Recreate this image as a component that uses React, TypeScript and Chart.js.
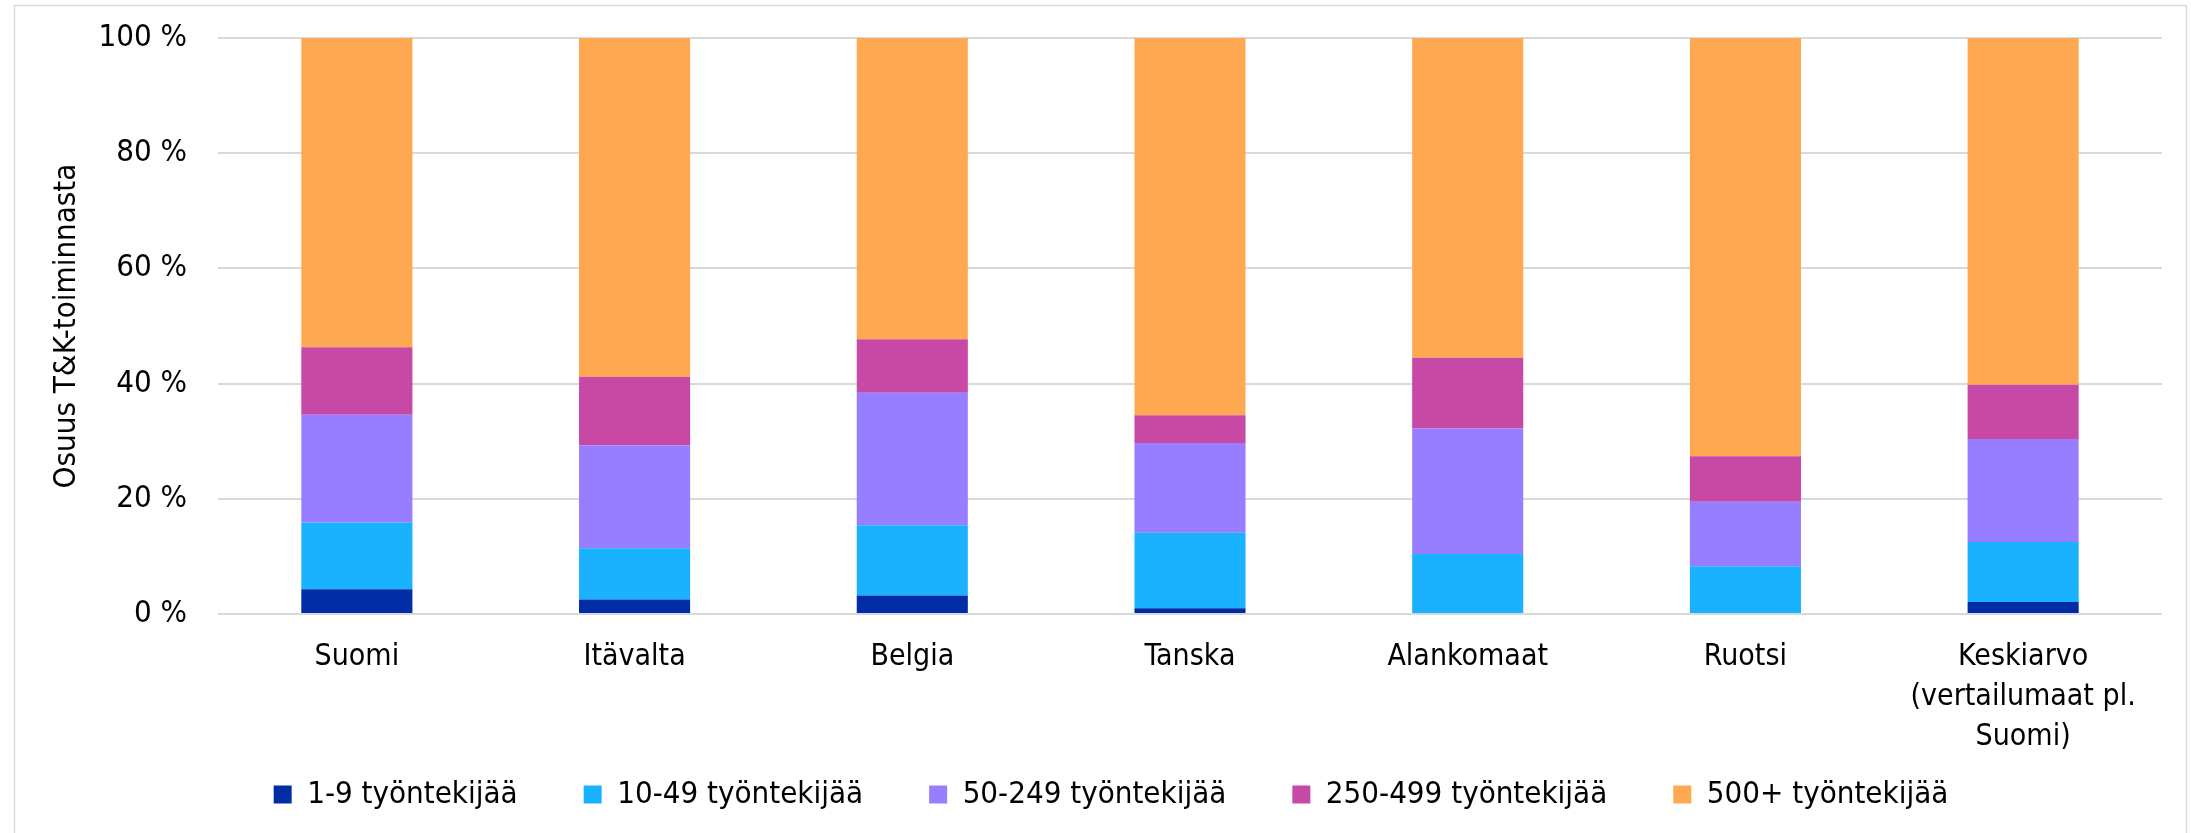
import React, { useEffect, useRef } from "react";
import { Chart, registerables } from "chart.js";

Chart.register(...registerables);

const categories: (string | string[])[] = [
  "Suomi",
  "Itävalta",
  "Belgia",
  "Tanska",
  "Alankomaat",
  "Ruotsi",
  ["Keskiarvo", "(vertailumaat pl.", "Suomi)"],
];

const seriesLabels = [
  "1-9 työntekijää",
  "10-49 työntekijää",
  "50-249 työntekijää",
  "250-499 työntekijää",
  "500+ työntekijää",
];

const s1to9 = [4.3, 2.5, 3.2, 1.0, 0, 0, 2.1];
const s10to49 = [11.6, 8.9, 12.2, 13.1, 10.4, 8.3, 10.4];
const s50to249 = [18.7, 17.9, 23.0, 15.6, 21.8, 11.2, 17.9];
const s250to499 = [11.7, 11.9, 9.3, 4.8, 12.3, 7.9, 9.4];
const s500plus = [53.7, 58.8, 52.3, 65.5, 55.5, 72.6, 60.2];

const seriesColors = ["#002DA5", "#1AB2FF", "#977DFF", "#C748A5", "#FFA852"];

const yTicks = [0, 20, 40, 60, 80, 100];
const yTitle = "Osuus T&K-toiminnasta";

const FONT = '"DejaVu Sans Condensed", "Liberation Sans", sans-serif';

export default function App() {
  const ref = useRef<HTMLCanvasElement | null>(null);

  useEffect(() => {
    if (!ref.current) return;
    const values = [s1to9, s10to49, s50to249, s250to499, s500plus];
    const borderPlugin = {
      id: "outerBorder",
      beforeDraw(chart: any) {
        const ctx = chart.ctx;
        ctx.save();
        ctx.fillStyle = "#ffffff";
        ctx.fillRect(0, 0, chart.width, chart.height);
        ctx.strokeStyle = "#d9d9d9";
        ctx.lineWidth = 1.5;
        ctx.strokeRect(14.5, 5.5, 2172, 850);
        ctx.restore();
      },
      afterLayout(chart: any) {
        const lg = chart.legend;
        if (lg) {
          lg.left += 30;
          lg.right += 30;
        }
      },
    };
    const chart = new Chart(ref.current, {
      type: "bar",
      data: {
        labels: categories as any,
        datasets: seriesLabels.map((label, i) => ({
          label,
          data: values[i],
          backgroundColor: seriesColors[i],
          borderWidth: 0,
          barPercentage: 0.4,
          categoryPercentage: 1,
        })),
      },
      options: {
        animation: false,
        responsive: false,
        maintainAspectRatio: false,
        layout: { padding: { top: 38, right: 29, bottom: 13, left: 0 } },
        font: { family: FONT, size: 30 },
        plugins: {
          tooltip: { enabled: false },
          legend: {
            position: "bottom",
            labels: {
              font: { family: FONT, size: 31 },
              color: "#000000",
              boxWidth: 18,
              boxHeight: 18,
              padding: 66,
            },
          },
        },
        scales: {
          x: {
            stacked: true,
            grid: { display: false, drawTicks: false },
            border: { display: false },
            ticks: {
              color: "#000000",
              font: { family: FONT, size: 30, lineHeight: 1.33 },
              padding: 23,
              maxRotation: 0,
              autoSkip: false,
            },
            afterFit(scale: any) {
              scale.height = 99;
              scale.paddingLeft = 0;
              scale.paddingRight = 0;
              scale._computeLabelArea = () => undefined;
            },
          },
          y: {
            stacked: true,
            min: 0,
            max: 100,
            afterBuildTicks(scale: any) {
              scale.ticks = yTicks.map((v) => ({ value: v }));
            },
            grid: { color: "#d9d9d9", lineWidth: 2, drawTicks: false },
            border: { display: false },
            ticks: {
              color: "#000000",
              font: { family: FONT, size: 31 },
              padding: 31,
              callback: (v: any) => `${v} %`,
            },
            title: {
              display: true,
              text: yTitle,
              color: "#000000",
              font: { family: FONT, size: 31 },
              padding: { top: 48, bottom: 0 },
            },
            afterFit(scale: any) {
              scale.width = 218;
              scale.paddingTop = 0;
              scale.paddingBottom = 0;
            },
          },
        },
      },
      plugins: [borderPlugin],
    });
    return () => chart.destroy();
  }, []);

  return (
    <div style={{ position: "absolute", left: 0, top: 0, width: 2191, height: 833, background: "#fff" }}>
      <canvas ref={ref} width={2191} height={833} style={{ width: 2191, height: 833, display: "block" }} />
    </div>
  );
}
